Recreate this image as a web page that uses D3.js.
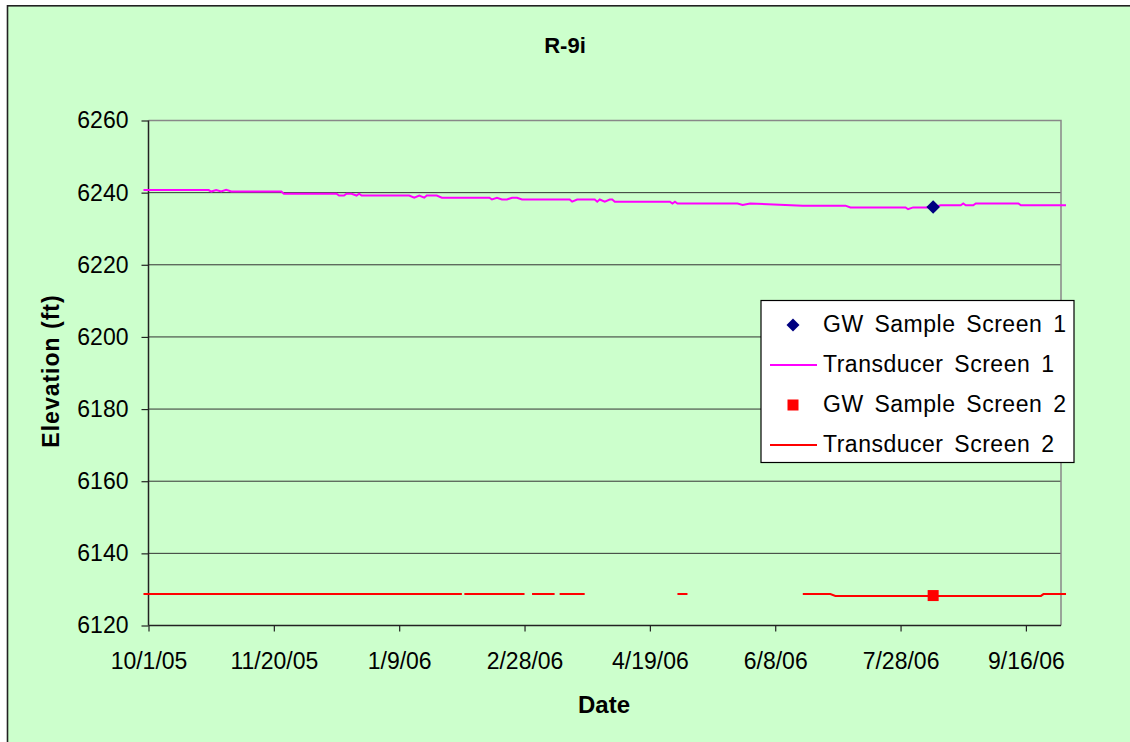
<!DOCTYPE html>
<html>
<head>
<meta charset="utf-8">
<script src="https://cdnjs.cloudflare.com/ajax/libs/d3/7.8.5/d3.min.js"></script>
<style>
  body { margin: 0; background: #fff; }
  svg text { font-family: "Liberation Sans", Arial, sans-serif; fill: #000; }
</style>
</head>
<body>
<svg id="chart"></svg>
<script>
// R-9i water level chart

const chartTitle = "R-9i";
const yTitle = "Elevation (ft)";
const xTitle = "Date";

const xDomain = ["2005-10-01", "2006-09-30"];
const yDomain = [6120, 6260];
const yTicks = [6120, 6140, 6160, 6180, 6200, 6220, 6240, 6260];
const xTicks = ["2005-10-01", "2005-11-20", "2006-01-09", "2006-02-28",
                "2006-04-19", "2006-06-08", "2006-07-28", "2006-09-16"];

// [date, elevation]; a null pair breaks the line
const transducer1 = [
  ["2005-09-29", 6240.7], ["2005-10-25", 6240.7], ["2005-10-26", 6240.3],
  ["2005-10-28", 6240.7], ["2005-10-30", 6240.3], ["2005-11-01", 6240.8],
  ["2005-11-03", 6240.3], ["2005-11-23", 6240.3], ["2005-11-24", 6239.7],
  ["2005-12-15", 6239.7], ["2005-12-16", 6239.2], ["2005-12-18", 6239.2],
  ["2005-12-19", 6239.7], ["2005-12-21", 6239.7], ["2005-12-23", 6239.2],
  ["2005-12-24", 6239.7], ["2005-12-25", 6239.2], ["2006-01-13", 6239.2],
  ["2006-01-15", 6238.6], ["2006-01-17", 6239.2], ["2006-01-19", 6238.6],
  ["2006-01-20", 6239.2], ["2006-01-24", 6239.2], ["2006-01-26", 6238.6],
  ["2006-02-14", 6238.6], ["2006-02-15", 6238.1], ["2006-02-17", 6238.6],
  ["2006-02-19", 6238.1], ["2006-02-21", 6238.1], ["2006-02-23", 6238.6],
  ["2006-02-25", 6238.6], ["2006-02-27", 6238.1], ["2006-03-18", 6238.1],
  ["2006-03-19", 6237.5], ["2006-03-21", 6238.1], ["2006-03-28", 6238.1],
  ["2006-03-29", 6237.5], ["2006-03-30", 6238.1], ["2006-04-01", 6237.5],
  ["2006-04-03", 6238.1], ["2006-04-04", 6238.1], ["2006-04-05", 6237.5],
  ["2006-04-27", 6237.5], ["2006-04-28", 6237.0], ["2006-04-29", 6237.5],
  ["2006-04-30", 6237.0], ["2006-05-24", 6237.0], ["2006-05-26", 6236.6],
  ["2006-05-29", 6237.0], ["2006-06-19", 6236.4], ["2006-07-06", 6236.4],
  ["2006-07-08", 6235.9], ["2006-07-30", 6235.9], ["2006-07-31", 6235.4],
  ["2006-08-02", 6235.9], ["2006-08-10", 6235.9], ["2006-08-13", 6236.5],
  ["2006-08-21", 6236.5], ["2006-08-22", 6237.0], ["2006-08-23", 6236.5],
  ["2006-08-26", 6236.5], ["2006-08-27", 6237.0], ["2006-09-13", 6237.0],
  ["2006-09-14", 6236.5], ["2006-10-02", 6236.5]
];

const transducer2 = [
  ["2005-09-29", 6128.7], ["2006-02-03", 6128.7], [null, null],
  ["2006-02-04", 6128.7], ["2006-02-28", 6128.7], [null, null],
  ["2006-03-03", 6128.7], ["2006-03-12", 6128.7], [null, null],
  ["2006-03-14", 6128.7], ["2006-03-24", 6128.7], [null, null],
  ["2006-04-30", 6128.7], ["2006-05-04", 6128.7], [null, null],
  ["2006-06-19", 6128.7], ["2006-06-30", 6128.7], ["2006-07-02", 6128.2],
  ["2006-09-22", 6128.2], ["2006-09-23", 6128.7], ["2006-10-02", 6128.7]
];

const sample1 = [["2006-08-10", 6236.0]];
const sample2 = [["2006-08-10", 6128.3]];

const legendItems = [
  { name: "GW Sample Screen 1", type: "diamond", color: "#000080" },
  { name: "Transducer Screen 1", type: "line", color: "#ff00ff" },
  { name: "GW Sample Screen 2", type: "square", color: "#ff0000" },
  { name: "Transducer Screen 2", type: "line", color: "#ff0000" }
];

const width = 1130, height = 742;
const plot = { left: 148.5, right: 1061, top: 120.5, bottom: 625.5 };
const parse = d3.utcParse("%Y-%m-%d");
const fmt = d3.utcFormat("%-m/%-d/%y");

const svg = d3.select("#chart").attr("width", width).attr("height", height);

// chart area
svg.append("rect")
  .attr("x", 7.5).attr("y", 5.8)
  .attr("width", width + 20).attr("height", height + 20)
  .attr("fill", "#ccffcc")
  .attr("stroke", "#222").attr("stroke-width", 1.6);

const x = d3.scaleUtc().domain(xDomain.map(parse)).range([plot.left, plot.right]);
const y = d3.scaleLinear().domain(yDomain).range([plot.bottom, plot.top]);

// gridlines
svg.append("g")
  .selectAll("line")
  .data(yTicks.filter((t) => t !== yDomain[0] && t !== yDomain[1]))
  .enter()
  .append("line")
  .attr("x1", plot.left).attr("x2", plot.right)
  .attr("y1", (d) => y(d)).attr("y2", (d) => y(d))
  .attr("stroke", "#333").attr("stroke-width", 1);

// plot border (top and right)
svg.append("path")
  .attr("d", `M${plot.left},${plot.top}H${plot.right}V${plot.bottom}`)
  .attr("fill", "none").attr("stroke", "#888").attr("stroke-width", 1.5);

// axes
const yAxis = svg.append("g")
  .attr("transform", `translate(${plot.left},0)`)
  .call(d3.axisLeft(y).tickValues(yTicks).tickSize(7).tickPadding(13).tickFormat(d3.format("d")));

const xAxis = svg.append("g")
  .attr("transform", `translate(0,${plot.bottom})`)
  .call(d3.axisBottom(x).tickValues(xTicks.map(parse)).tickSize(6).tickPadding(21).tickFormat(fmt));

[yAxis, xAxis].forEach((a) => {
  a.select(".domain").attr("stroke", "#222").attr("stroke-width", 1.5);
  a.selectAll(".tick line").attr("stroke", "#222").attr("stroke-width", 1.2);
  a.selectAll(".tick text")
    .style("font-family", '"Liberation Sans", Arial, sans-serif')
    .style("font-size", "23px").attr("fill", "#000");
});
yAxis.select(".domain").attr("d", `M0,${plot.top}V${plot.bottom}`);
xAxis.select(".domain").attr("d", `M${plot.left},0H${plot.right}`);

// series lines
const line = d3.line()
  .defined((d) => d[0] !== null && d[1] !== null)
  .x((d) => x(parse(d[0])))
  .y((d) => y(d[1]));

svg.append("path")
  .datum(transducer1)
  .attr("d", line)
  .attr("fill", "none").attr("stroke", "#ff00ff").attr("stroke-width", 2);

svg.append("path")
  .datum(transducer2)
  .attr("d", line)
  .attr("fill", "none").attr("stroke", "#ff0000").attr("stroke-width", 2);

// sample points
svg.selectAll(".s1")
  .data(sample1)
  .enter()
  .append("path")
  .attr("class", "s1")
  .attr("d", "M0,-6.8L6.8,0L0,6.8L-6.8,0Z")
  .attr("transform", (d) => `translate(${x(parse(d[0]))},${y(d[1])})`)
  .attr("fill", "#000080");

svg.selectAll(".s2")
  .data(sample2)
  .enter()
  .append("rect")
  .attr("class", "s2")
  .attr("x", (d) => x(parse(d[0])) - 5.5)
  .attr("y", (d) => y(d[1]) - 5.5)
  .attr("width", 11).attr("height", 11)
  .attr("fill", "#ff0000");

// titles
svg.append("text")
  .attr("x", 565).attr("y", 53)
  .attr("text-anchor", "middle")
  .style("font-size", "22px").style("font-weight", "bold")
  .text(chartTitle);

svg.append("text")
  .attr("transform", "translate(51,371) rotate(-90)")
  .attr("text-anchor", "middle").attr("dy", "0.35em")
  .style("font-size", "23px").style("font-weight", "bold")
  .style("letter-spacing", "1px")
  .text(yTitle);

svg.append("text")
  .attr("x", 604).attr("y", 713)
  .attr("text-anchor", "middle")
  .style("font-size", "24px").style("font-weight", "bold")
  .text(xTitle);

// legend
const legend = svg.append("g");
legend.append("rect")
  .attr("x", 761).attr("y", 300.5)
  .attr("width", 313).attr("height", 162)
  .attr("fill", "#fff").attr("stroke", "#000").attr("stroke-width", 1.2);

const rows = legend.selectAll(".item")
  .data(legendItems)
  .enter()
  .append("g")
  .attr("class", "item")
  .attr("transform", (d, i) => `translate(0,${325 + i * 40})`);

rows.each(function (d) {
  const r = d3.select(this);
  if (d.type === "line") {
    r.append("line")
      .attr("x1", 770).attr("x2", 817)
      .attr("stroke", d.color).attr("stroke-width", 2);
  } else if (d.type === "diamond") {
    r.append("path")
      .attr("d", "M793,-6.5L799.5,0L793,6.5L786.5,0Z")
      .attr("fill", d.color);
  } else {
    r.append("rect")
      .attr("x", 787.5).attr("y", -5.5)
      .attr("width", 11).attr("height", 11)
      .attr("fill", d.color);
  }
});

rows.append("text")
  .attr("x", 823).attr("dy", "0.3em")
  .style("font-size", "23px")
  .style("letter-spacing", "0.5px").style("word-spacing", "4px")
  .text((d) => d.name);
</script>
</body>
</html>
